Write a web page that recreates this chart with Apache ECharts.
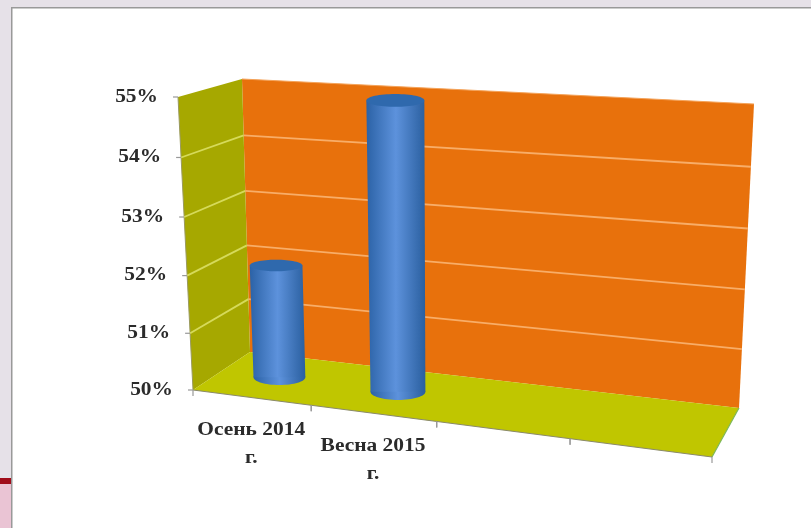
<!DOCTYPE html>
<html><head><meta charset="utf-8">
<style>html,body{margin:0;padding:0;background:#fff}#c{width:811px;height:528px;filter:blur(0.7px)}</style>
<script src="https://cdn.jsdelivr.net/npm/echarts@6/dist/echarts.min.js"></script>
</head><body><div id="c"></div>
<script>
const categories = ['Осень 2014\nг.', 'Весна 2015\nг.', '', ''];
const values = [52, 54.95];
const yTicks = [50, 51, 52, 53, 54, 55];

const floorQuad = [[193,390],[712,457],[739,408],[250,352]];
const ceilQuad  = [[178,97],[740,130],[754,104],[242,79]];
function homography(q){
  const [[x0,y0],[x1,y1],[x2,y2],[x3,y3]] = q;
  const dx1=x1-x2,dx2=x3-x2,sx=x0-x1+x2-x3,dy1=y1-y2,dy2=y3-y2,sy=y0-y1+y2-y3;
  const den=dx1*dy2-dx2*dy1, g=(sx*dy2-dx2*sy)/den, h=(dx1*sy-sx*dy1)/den;
  const a=x1-x0+g*x1,b=x3-x0+h*x3,c=x0,d=y1-y0+g*y1,e=y3-y0+h*y3,f=y0;
  return (u,v)=>{const w=g*u+h*v+1;return [(a*u+b*v+c)/w,(d*u+e*v+f)/w];};
}
const hFloor=homography(floorQuad), hCeil=homography(ceilQuad);
function proj(u0,v0,d){
  const u=u0+(0.035+0.045*v0)*u0*(1-u0), v=v0-0.04*v0*(1-v0);
  const a=hFloor(u,d),b=hCeil(u,d);
  return [a[0]+(b[0]-a[0])*v,a[1]+(b[1]-a[1])*v];
}
function norm(pt,cs){return [(pt[0]-cs.x)/cs.width,(cs.y+cs.height-pt[1])/cs.height];}

const FONT='"Liberation Serif","Times New Roman",serif';
const txt=(text,x,y,align)=>({type:'text',x,y,scaleX:1.19,silent:true,style:{text,fill:'#2b2b2b',fontFamily:FONT,fontWeight:'bold',fontSize:18,textAlign:align,textVerticalAlign:'middle'}});
const seg=(a,b,color,w)=>({type:'line',shape:{x1:a[0],y1:a[1],x2:b[0],y2:b[1]},style:{stroke:color,lineWidth:w}});
const poly=(pts,fill)=>({type:'polygon',shape:{points:pts},style:{fill}});

function renderWalls(params,api){
  const P=proj;
  return {type:'group',children:[
    poly([P(0,0,1),P(1,0,1),P(1,1,1),P(0,1,1)],'#e8710c'),
    poly([P(0,0,0),P(0,0,1),P(0,1,1),P(0,1,0)],'#a6a800'),
    poly([P(0,0,0),P(1,0,0),P(1,0,1),P(0,0,1)],'#c0c600'),
    seg(P(1,0,0),P(1,0,1),'#7db85a',1.2),
    seg(P(0,0,0),P(1,0,0),'#8a8a6a',1.2),
    seg(P(0,0,0),P(0,1,0),'#9a9a60',1),
    seg(P(0,1,1),P(1,1,1),'#f4a35a',1)
  ]};
}
function renderY(params,api){
  const cs=params.coordSys, val=api.value(1);
  const v=norm(api.coord([0,val]),cs)[1];
  const a=proj(0,v,0),b=proj(0,v,1),c=proj(1,v,1);
  const ch=[seg([a[0]-5,a[1]],a,'#999999',1.2),txt(val+'%',a[0]-20,a[1],'right')];
  if(val>50&&val<55){ch.push(seg(a,b,'#d6da5a',1.8),seg(b,c,'#f8ad68',1.8));}
  return {type:'group',children:ch};
}
function renderX(params,api){
  const cs=params.coordSys, i=api.value(0);
  const band=api.size([1,0])[0];
  const center=norm(api.coord([i,50]),cs)[0];
  const hw=band/2/cs.width;
  const ch=[];
  [center-hw,center+hw].forEach(u=>{const p=proj(u,0,0);ch.push(seg(p,[p[0],p[1]+6],'#999999',1.2));});
  const lines=categories[i].split('\n'), p=proj(center,0,0);
  lines.forEach((s,k)=>{if(s)ch.push(txt(s,p[0],p[1]+33+k*28,'center'));});
  return {type:'group',children:ch};
}
function renderBar(params,api){
  const cs=params.coordSys, i=api.value(0), val=api.value(1);
  const n=norm(api.coord([i,val]),cs), u=n[0], v=n[1];
  const hw=api.size([1,0])[0]/cs.width*0.225, d=0.5;
  const bc=proj(u,0,d), tc=proj(u,v,d);
  const bl=proj(u-hw,0,d), br=proj(u+hw,0,d), tl=proj(u-hw,v,d), tr=proj(u+hw,v,d);
  const brx=(br[0]-bl[0])/2, trx=(tr[0]-tl[0])/2, bcx=(bl[0]+br[0])/2, tcx=(tl[0]+tr[0])/2;
  const grad={type:'linear',x:0,y:0,x2:1,y2:0,colorStops:[{offset:0,color:'#2b62a6'},{offset:.5,color:'#5d92dc'},{offset:1,color:'#2a5f9f'}]};
  return {type:'group',children:[
    {type:'ellipse',shape:{cx:bcx,cy:bc[1],rx:brx,ry:brx*0.3},style:{fill:grad}},
    poly([[tcx-trx,tc[1]],[tcx+trx,tc[1]],[bcx+brx,bc[1]],[bcx-brx,bc[1]]],grad),
    {type:'ellipse',shape:{cx:tcx,cy:tc[1],rx:trx,ry:trx*0.22},style:{fill:'#2f69ad'}}
  ]};
}

const chart=echarts.init(document.getElementById('c'),null,{renderer:'canvas'});
const common={type:'custom',coordinateSystem:'cartesian2d',clip:false,silent:true,animation:false,encode:{x:0,y:1}};
chart.setOption({
  animation:false,
  backgroundColor:'#ffffff',
  graphic:[
    {type:'rect',z:-1,shape:{x:0,y:0,width:811,height:8},style:{fill:'#e6e1e8'}},
    {type:'rect',z:-1,shape:{x:0,y:0,width:11,height:478},style:{fill:'#e6e1e8'}},
    {type:'rect',z:-1,shape:{x:0,y:478,width:11,height:6},style:{fill:'#a00c1a'}},
    {type:'rect',z:-1,shape:{x:0,y:484,width:11,height:44},style:{fill:'#eac4d4'}},
    {type:'rect',z:-1,shape:{x:11,y:7,width:800,height:1.5},style:{fill:'#999999'}},
    {type:'rect',z:-1,shape:{x:11,y:7,width:1.5,height:521},style:{fill:'#999999'}}
  ],
  grid:{left:193,right:99,top:97,bottom:138},
  xAxis:{type:'category',data:categories,show:false},
  yAxis:{type:'value',min:yTicks[0],max:yTicks[yTicks.length-1],interval:1,show:false},
  series:[
    Object.assign({},common,{z:1,data:[[0,50]],renderItem:renderWalls}),
    Object.assign({},common,{z:2,data:yTicks.map(t=>[0,t]),renderItem:renderY}),
    Object.assign({},common,{z:2,data:categories.map((c,i)=>[i,50]),renderItem:renderX}),
    Object.assign({},common,{z:3,data:values.map((t,i)=>[i,t]),renderItem:renderBar})
  ]
});
</script></body></html>
